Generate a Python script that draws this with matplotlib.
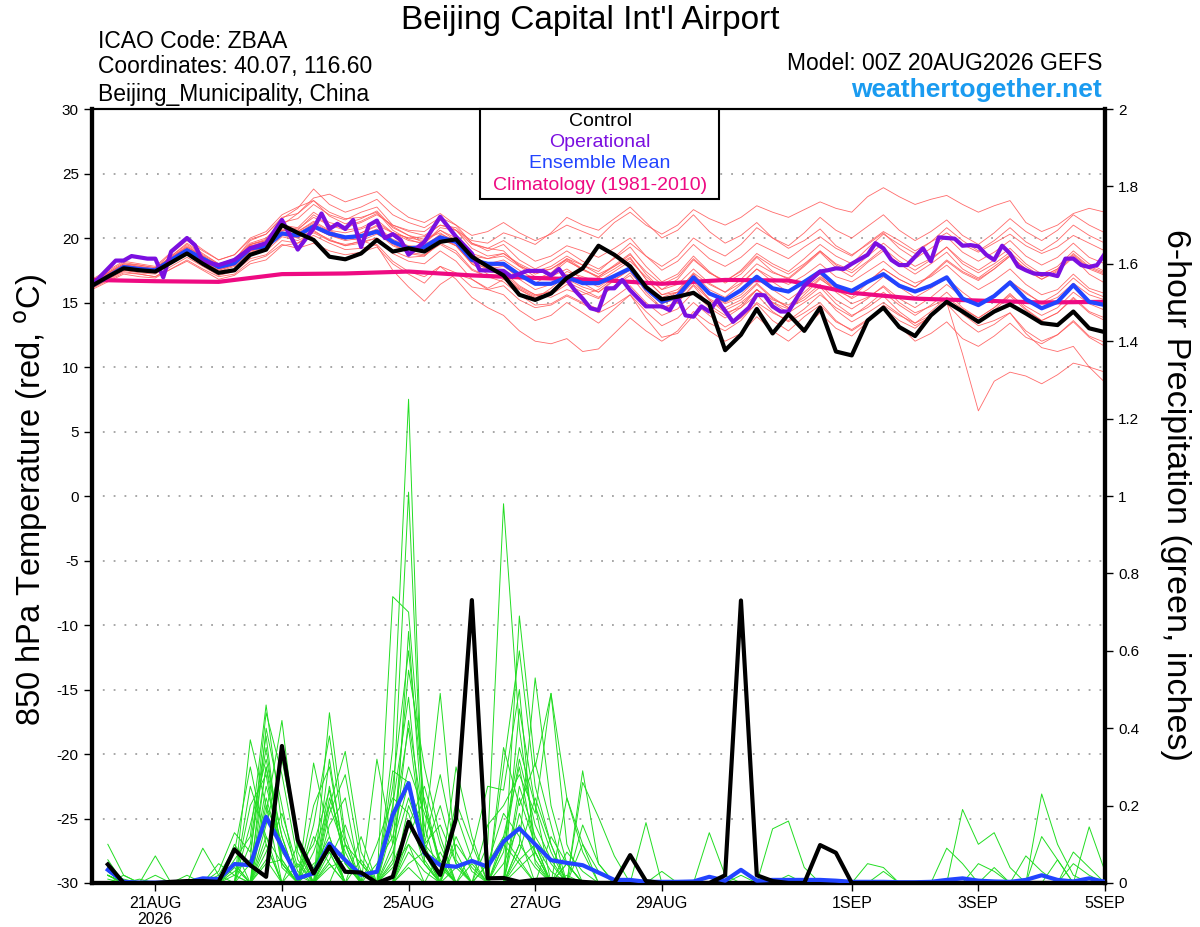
import numpy as np
import matplotlib.pyplot as plt
from matplotlib.patches import Rectangle

plt.rcParams['font.family'] = ['Liberation Sans', 'DejaVu Sans']

# hours after 00Z 20AUG2026, 6-hourly
hours = np.arange(0, 385, 6)
precip_hours = hours[1:]

# control run (black)
control_temp = [16.3, 17.0, 17.65, 17.5, 17.4, 18.1, 18.8, 18.0, 17.3, 17.5,
                18.7, 19.1, 21.0, 20.4, 19.85, 18.55, 18.35, 18.8, 19.85, 18.95,
                19.2, 18.95, 19.7, 19.9, 18.55, 17.8, 17.1, 15.6, 15.2, 15.7,
                16.9, 17.65, 19.4, 18.7, 17.8, 16.2, 15.25, 15.45, 15.75, 14.9,
                11.3, 12.5, 14.5, 12.6, 14.1, 12.8, 14.6, 11.2, 10.9, 13.6,
                14.6, 13.1, 12.4, 14.0, 15.05, 14.3, 13.5, 14.3, 14.85, 14.15,
                13.4, 13.25, 14.3, 13.0, 12.7]

# ensemble mean (blue)
mean_temp = [16.3, 17.0, 17.75, 17.6, 17.5, 18.3, 19.05, 18.4, 17.75, 18.05,
             19.2, 19.35, 20.35, 20.2, 20.9, 20.35, 20.05, 20.15, 20.5, 19.7,
             19.2, 19.3, 20.05, 19.7, 18.3, 18.0, 18.0, 17.15, 16.45, 16.45,
             16.95, 16.5, 16.5, 17.05, 17.65, 16.1, 15.05, 15.5, 16.95, 15.7,
             15.2, 15.95, 17.0, 16.1, 15.85, 16.6, 17.4, 16.3, 15.9, 16.6,
             17.2, 16.3, 15.85, 16.3, 16.95, 15.3, 14.8, 15.5, 16.55, 15.25,
             14.55, 15.05, 16.35, 15.05, 14.8]

# operational run (purple), 3-hourly where it bends
op_hours = [0, 9, 12, 15, 21, 24, 27, 30, 36, 39, 42, 48, 54, 60, 66, 72, 78, 84, 87, 90,
            93, 96, 99, 102, 105, 108, 111, 114, 117, 120, 126, 132, 138, 144, 147, 156,
            159, 165, 171, 174, 177, 183, 186, 189, 192, 195, 198, 201, 204, 210, 216,
            219, 222, 225, 228, 231, 234, 237, 243, 249, 252, 255, 258, 261, 264, 270,
            276, 279, 282, 285, 288, 294, 297, 300, 303, 306, 309, 312, 315, 318, 321,
            324, 327, 330, 333, 336, 339, 342, 345, 348, 351, 354, 357, 360, 363, 366,
            369, 372, 375, 378, 381, 384]
op_temp = [16.35, 18.25, 18.25, 18.6, 18.4, 18.4, 16.95, 18.95, 20.0, 19.45, 18.2, 17.9,
           18.3, 19.2, 19.6, 21.4, 19.1, 20.75, 21.9, 20.7, 21.1, 20.7, 21.4, 19.3, 21.0,
           21.35, 20.0, 20.3, 19.85, 18.7, 19.7, 21.65, 20.1, 18.8, 17.5, 17.45, 17.0,
           17.45, 17.45, 17.1, 17.6, 15.95, 15.3, 14.55, 14.4, 16.1, 16.1, 16.75, 15.95,
           14.7, 14.7, 14.4, 15.45, 14.0, 13.9, 14.7, 14.3, 15.2, 13.5, 14.6, 15.6, 15.55,
           14.7, 14.3, 14.3, 16.3, 17.4, 17.5, 17.65, 17.6, 18.0, 18.7, 19.6, 19.2, 18.3,
           17.9, 17.9, 18.55, 19.2, 18.2, 20.05, 20.0, 19.95, 19.4, 19.45, 19.35, 18.7,
           18.3, 19.4, 18.8, 17.8, 17.5, 17.25, 17.2, 17.2, 17.05, 18.4, 18.4, 17.9,
           17.75, 17.9, 18.8]

# climatology (daily)
clim_hours = np.arange(0, 385, 24)
clim_temp = [16.75, 16.65, 16.6, 17.2, 17.25, 17.4, 17.1, 16.9, 16.75, 16.45,
             16.75, 16.7, 15.75, 15.3, 15.15, 15.0, 15.05]

# 6-hour precipitation, inches
control_precip = [.048, 0, 0, 0, .003, .005, .005, .003, .087, .046,
                  .016, .354, .111, .025, .094, .029, .027, 0, .016, .158,
                  .081, .021, .167, .731, .012, .013, .003, .008, .01, .008,
                  .003, 0, 0, .072, .005, 0, 0, 0, 0, .02,
                  .73, .02, .005, 0, 0, .098, .078, 0, 0, 0,
                  0, 0, 0, 0, 0, 0, 0, 0, 0, 0, 0, 0, 0, 0]
mean_precip = [.034, .003, .001, .001, .001, .002, .012, .01, .049, .046,
               .171, .094, .012, .025, .102, .059, .021, .029, .176, .258,
               .077, .046, .042, .057, .042, .107, .141, .1, .059, .052,
               .046, .027, .008, .008, .003, .003, .003, .004, .016, .006,
               .034, .006, .008, .008, .008, .008, .006, .003, .003, .003,
               .002, .002, .003, .008, .012, .006, .004, .003, .008, .02,
               .008, .004, .012, .003]

# ensemble members, 850 hPa temperature (red)
member_temp = [
    [16.5, 17.2, 17.9, 17.8, 17.6, 18.6, 19.5, 18.7, 18.0, 18.4, 19.6, 20.0, 21.2, 21.5, 22.6, 21.8, 21.4, 22.0, 22.4, 21.0, 20.5, 20.2, 21.0, 20.6, 19.5, 19.2, 19.8, 19.0, 18.2, 18.6, 19.4, 19.0, 18.5, 19.2, 20.0, 18.6, 17.5, 18.2, 19.5, 18.4, 17.8, 18.5, 19.6, 19.0, 18.4, 19.3, 20.1, 19.2, 18.6, 19.6, 20.5, 19.8, 19.0, 19.7, 20.4, 19.5, 18.9, 19.6, 20.3, 19.4, 18.8, 19.3, 20.2, 19.6, 19.0],
    [16.6, 17.3, 18.0, 17.9, 17.7, 18.8, 19.8, 19.0, 18.3, 18.7, 19.9, 20.3, 21.5, 22.3, 23.8, 22.6, 22.0, 22.4, 23.0, 21.8, 21.2, 20.8, 21.6, 21.0, 20.2, 20.5, 21.2, 20.4, 19.8, 20.3, 21.0, 20.5, 20.0, 21.2, 22.0, 21.0, 20.3, 21.0, 22.2, 21.5, 21.0, 21.6, 22.5, 22.0, 21.6, 22.2, 22.8, 22.3, 22.0, 23.2, 23.9, 23.2, 22.6, 23.0, 23.3, 22.6, 22.0, 22.5, 22.9, 21.2, 20.5, 21.0, 21.9, 22.3, 22.0],
    [16.1, 16.7, 17.3, 17.2, 17.0, 17.6, 18.3, 17.6, 17.0, 17.2, 18.2, 18.6, 19.5, 19.2, 19.6, 19.0, 18.7, 18.9, 19.3, 18.0, 17.2, 16.5, 17.8, 17.3, 16.2, 16.0, 16.3, 15.2, 14.6, 14.8, 15.5, 14.9, 14.2, 14.8, 15.6, 14.3, 13.2, 13.8, 15.0, 14.0, 13.1, 13.8, 14.9, 13.6, 12.8, 13.9, 14.8, 13.5, 12.9, 13.7, 14.6, 13.2, 12.0, 12.6, 13.5, 12.2, 11.6, 12.4, 13.4, 12.3, 11.8, 12.5, 13.6, 12.4, 11.9],
    [16.4, 17.1, 17.8, 17.5, 17.3, 18.2, 19.0, 18.3, 17.6, 18.0, 19.3, 19.6, 20.7, 20.5, 21.3, 20.6, 20.0, 19.8, 19.4, 17.5, 16.2, 15.1, 16.4, 17.2, 16.8, 16.1, 16.8, 16.0, 15.3, 16.1, 17.2, 16.5, 15.8, 16.8, 17.5, 16.2, 15.4, 15.8, 16.9, 15.8, 15.0, 15.6, 16.8, 16.0, 15.2, 16.1, 17.0, 16.1, 15.3, 16.0, 17.0, 16.2, 15.4, 16.1, 16.9, 15.8, 14.9, 15.6, 16.6, 15.8, 14.9, 15.4, 16.5, 15.6, 15.2],
    [16.2, 16.9, 17.6, 17.5, 17.4, 18.3, 19.2, 18.4, 17.7, 18.0, 19.1, 19.4, 20.6, 20.4, 21.1, 20.3, 19.9, 20.2, 20.7, 19.8, 19.2, 19.0, 20.0, 19.4, 18.1, 17.6, 17.4, 16.3, 15.6, 15.8, 16.6, 16.0, 15.4, 16.3, 17.1, 15.6, 14.5, 15.0, 16.4, 15.2, 14.4, 15.0, 16.0, 15.0, 14.2, 15.0, 15.8, 14.4, 13.5, 14.2, 15.0, 14.1, 13.2, 13.9, 15.0, 11.0, 6.6, 8.9, 9.6, 9.3, 8.7, 9.4, 10.3, 10.0, 9.6],
    [16.7, 17.4, 18.1, 17.9, 17.7, 18.5, 19.3, 18.6, 17.9, 18.2, 19.5, 19.8, 21.0, 21.9, 22.9, 21.7, 21.1, 21.5, 22.1, 20.8, 20.2, 19.6, 20.6, 19.8, 18.4, 17.8, 17.9, 16.8, 16.0, 16.4, 17.4, 17.0, 16.6, 17.4, 18.2, 17.0, 16.0, 16.4, 17.6, 16.5, 15.8, 16.5, 17.6, 16.6, 15.8, 16.5, 17.2, 15.8, 14.9, 15.4, 16.2, 15.0, 14.2, 14.7, 15.3, 14.1, 13.2, 13.6, 14.2, 12.6, 11.5, 11.2, 11.6, 10.0, 8.8],
    [16.3, 17.0, 17.7, 17.5, 17.5, 18.4, 19.2, 18.5, 17.8, 18.1, 19.4, 19.5, 20.5, 20.0, 20.8, 20.2, 19.8, 20.0, 20.4, 19.4, 18.9, 19.2, 19.9, 19.4, 18.0, 17.4, 17.2, 16.2, 15.6, 15.4, 16.0, 15.6, 16.0, 16.9, 17.8, 16.3, 15.0, 15.6, 17.2, 16.0, 15.4, 16.4, 17.6, 16.9, 16.4, 17.1, 18.0, 17.0, 16.6, 17.4, 18.2, 17.2, 16.5, 17.0, 17.9, 16.8, 16.0, 16.7, 17.6, 16.4, 15.6, 16.0, 17.2, 16.1, 15.7],
    [16.5, 17.2, 17.9, 17.7, 17.6, 18.6, 19.6, 18.8, 18.0, 18.3, 19.8, 20.3, 21.6, 21.9, 23.1, 23.4, 22.8, 23.2, 23.6, 22.5, 21.6, 21.2, 21.9, 21.0, 19.6, 19.0, 19.5, 18.3, 17.6, 18.2, 19.0, 18.2, 17.6, 18.4, 19.3, 17.8, 16.6, 17.2, 18.6, 17.4, 16.5, 17.2, 18.5, 17.4, 16.8, 17.8, 18.9, 17.7, 17.0, 18.1, 19.0, 18.0, 17.2, 18.0, 18.9, 17.6, 16.9, 17.8, 18.7, 17.5, 16.8, 17.5, 18.6, 17.6, 17.1],
    [16.0, 16.6, 17.2, 17.0, 16.9, 17.6, 18.2, 17.5, 16.8, 17.1, 18.0, 18.3, 19.4, 19.6, 20.5, 19.9, 19.4, 19.8, 20.3, 19.6, 18.8, 18.6, 19.6, 19.0, 17.6, 17.0, 16.6, 15.6, 14.8, 14.9, 15.6, 15.0, 14.5, 15.4, 16.3, 15.0, 14.0, 14.5, 15.8, 14.6, 13.8, 14.6, 16.0, 15.2, 14.8, 15.8, 16.9, 15.9, 15.4, 16.5, 17.6, 16.8, 16.2, 17.1, 18.2, 17.3, 16.7, 17.6, 18.6, 17.6, 17.0, 17.6, 18.8, 17.8, 17.3],
    [16.6, 17.3, 18.0, 17.8, 17.6, 18.4, 19.2, 18.5, 17.8, 18.1, 19.4, 19.7, 20.9, 20.6, 21.8, 21.0, 20.6, 20.8, 21.4, 20.4, 19.8, 19.6, 20.8, 20.6, 19.8, 19.6, 20.4, 20.0, 19.5, 20.4, 21.6, 21.0, 20.6, 21.5, 22.4, 21.2, 20.0, 20.6, 21.8, 20.5, 19.6, 20.2, 21.2, 20.0, 19.2, 19.8, 20.7, 19.4, 18.7, 19.5, 20.4, 19.2, 18.4, 19.2, 20.1, 18.9, 18.2, 18.9, 19.8, 18.6, 17.9, 18.5, 19.6, 18.5, 18.0],
    [16.2, 16.9, 17.5, 17.4, 17.3, 18.0, 18.8, 18.1, 17.4, 17.8, 18.9, 19.2, 20.2, 20.0, 20.6, 19.8, 19.5, 19.7, 20.0, 18.8, 18.2, 18.0, 19.0, 18.2, 16.8, 16.0, 15.6, 14.4, 13.6, 14.0, 15.0, 14.2, 13.4, 14.5, 15.6, 13.8, 12.3, 12.6, 14.0, 12.8, 12.0, 12.6, 13.9, 12.8, 12.0, 13.0, 14.2, 13.0, 12.4, 13.5, 14.8, 14.0, 13.4, 14.3, 15.4, 14.5, 13.8, 14.6, 15.6, 14.7, 14.0, 14.6, 15.8, 14.9, 14.4],
    [16.4, 17.1, 17.8, 17.7, 17.6, 18.5, 19.4, 18.6, 17.9, 18.3, 19.5, 19.9, 21.0, 20.8, 22.0, 21.2, 20.9, 21.3, 21.9, 20.9, 20.2, 19.9, 20.4, 19.6, 18.2, 17.6, 17.8, 17.0, 16.5, 17.2, 18.2, 17.6, 17.0, 17.9, 18.8, 17.2, 16.0, 16.8, 18.3, 17.3, 16.6, 17.5, 18.8, 18.0, 17.4, 18.4, 19.5, 18.6, 18.0, 19.2, 20.3, 19.5, 18.8, 19.7, 20.8, 19.8, 19.0, 19.8, 20.8, 19.7, 19.0, 19.8, 21.0, 20.2, 19.6],
    [16.3, 17.0, 17.6, 17.4, 17.3, 18.1, 18.9, 18.2, 17.5, 17.9, 19.0, 19.3, 20.4, 20.3, 21.0, 20.4, 20.0, 20.2, 20.6, 19.5, 18.9, 18.7, 19.5, 18.8, 17.5, 17.0, 17.0, 16.1, 15.5, 15.9, 16.8, 16.2, 15.8, 16.7, 17.6, 16.0, 14.9, 15.3, 16.6, 15.3, 14.6, 15.2, 16.4, 15.3, 14.6, 15.2, 16.2, 14.9, 14.0, 14.6, 15.5, 14.3, 13.4, 14.0, 14.9, 13.6, 12.7, 13.3, 14.2, 12.8, 12.0, 12.5, 13.5, 12.3, 11.6],
    [16.8, 17.5, 18.2, 18.0, 17.8, 18.9, 20.0, 19.1, 18.3, 18.7, 20.0, 20.5, 21.8, 22.4, 22.9, 22.0, 21.5, 21.6, 22.0, 20.6, 19.9, 19.5, 20.2, 19.4, 18.0, 17.2, 17.0, 16.0, 15.4, 15.6, 16.4, 15.8, 15.3, 16.3, 17.3, 16.0, 15.1, 15.8, 17.3, 16.4, 15.8, 16.8, 18.0, 17.3, 16.9, 17.9, 19.0, 18.0, 17.5, 18.6, 19.6, 18.6, 17.8, 18.4, 19.3, 18.0, 17.3, 18.0, 18.9, 17.8, 17.0, 17.6, 18.7, 17.7, 17.2],
    [16.1, 16.8, 17.5, 17.3, 17.2, 18.0, 18.7, 18.0, 17.3, 17.6, 18.8, 19.0, 20.1, 19.8, 20.4, 19.8, 19.4, 19.6, 20.0, 19.0, 18.5, 18.6, 19.8, 19.6, 18.6, 18.4, 18.8, 17.9, 17.2, 17.6, 18.4, 17.6, 16.9, 17.6, 18.4, 16.8, 15.6, 16.0, 17.2, 15.8, 14.9, 15.4, 16.5, 15.4, 14.6, 15.4, 16.4, 15.2, 14.5, 15.3, 16.3, 15.3, 14.6, 15.4, 16.4, 15.4, 14.8, 15.6, 16.7, 15.7, 15.0, 15.7, 16.9, 15.9, 15.4],
    [16.2, 16.8, 17.4, 17.2, 17.0, 17.8, 18.5, 17.8, 17.1, 17.4, 18.4, 18.7, 19.8, 19.6, 20.2, 19.6, 19.1, 19.2, 19.5, 18.2, 17.4, 17.0, 17.8, 16.8, 15.4, 14.6, 14.0, 12.8, 12.0, 11.8, 12.2, 11.2, 11.4, 12.6, 13.8, 12.8, 12.0, 12.8, 14.3, 13.4, 12.8, 13.6, 15.0, 14.2, 13.6, 14.5, 15.6, 14.6, 13.9, 14.8, 15.8, 14.8, 14.0, 14.8, 15.8, 14.6, 13.8, 14.6, 15.7, 14.5, 13.6, 14.2, 15.3, 14.2, 13.6],
    [16.5, 17.2, 17.8, 17.6, 17.5, 18.3, 19.1, 18.4, 17.7, 18.0, 19.2, 19.5, 20.6, 20.5, 21.2, 20.5, 20.0, 20.4, 20.9, 19.9, 19.4, 19.3, 20.3, 19.8, 18.6, 18.0, 18.3, 17.5, 16.8, 17.3, 18.4, 17.9, 17.4, 18.5, 19.6, 18.6, 17.8, 18.6, 20.0, 19.2, 18.6, 19.5, 20.8, 20.0, 19.4, 20.4, 21.6, 20.6, 20.0, 20.9, 21.8, 20.6, 19.8, 20.5, 21.4, 20.2, 19.5, 20.4, 21.5, 20.5, 19.8, 20.6, 21.8, 21.0, 20.4],
    [16.3, 17.0, 17.6, 17.5, 17.4, 18.2, 19.0, 18.3, 17.6, 17.9, 19.1, 19.4, 20.4, 20.2, 20.9, 20.6, 20.4, 20.7, 21.2, 20.4, 20.0, 20.1, 21.0, 20.8, 19.6, 19.2, 19.0, 17.8, 17.0, 17.0, 17.6, 16.8, 16.2, 17.0, 17.6, 15.8, 14.6, 15.0, 16.3, 14.8, 14.0, 14.8, 16.0, 15.0, 14.5, 15.6, 16.8, 16.0, 15.6, 16.6, 17.6, 16.8, 16.2, 17.2, 18.3, 17.4, 16.8, 17.6, 18.6, 17.6, 16.8, 17.4, 18.5, 17.2, 16.5],
    [16.4, 17.0, 17.7, 17.6, 17.5, 18.3, 19.0, 18.2, 17.5, 17.9, 19.0, 19.2, 20.3, 20.2, 20.8, 20.2, 19.9, 20.4, 21.0, 20.4, 20.0, 19.8, 20.6, 20.0, 18.8, 18.4, 18.6, 17.8, 17.4, 17.8, 18.6, 17.9, 17.2, 17.8, 18.5, 16.8, 15.6, 15.8, 16.8, 15.2, 14.2, 14.6, 15.6, 14.3, 13.5, 14.2, 15.0, 13.6, 12.8, 13.6, 14.6, 13.6, 13.0, 14.0, 15.2, 14.2, 13.5, 14.4, 15.5, 14.4, 13.6, 14.2, 15.4, 14.3, 13.8],
    [16.6, 17.3, 17.9, 17.7, 17.6, 18.5, 19.3, 18.6, 17.9, 18.2, 19.5, 19.8, 20.9, 20.7, 21.6, 21.0, 20.8, 21.2, 21.8, 21.0, 20.6, 20.5, 21.4, 20.6, 19.2, 18.6, 18.8, 18.0, 17.4, 17.6, 18.3, 17.5, 17.0, 17.8, 18.7, 17.4, 16.4, 17.0, 18.4, 17.3, 16.7, 17.4, 18.6, 17.8, 17.2, 18.0, 19.0, 17.9, 17.3, 18.2, 19.2, 18.2, 17.5, 18.3, 19.3, 18.2, 17.5, 18.3, 19.2, 18.0, 17.2, 17.8, 19.0, 18.0, 17.4],
]

# ensemble members, 6-hour precipitation (green): {6-h step: inches}, others zero
member_precip = [
    {1: .03, 9: .06, 10: .12, 11: .46, 12: .15, 13: .03, 15: .44, 16: .12, 19: .35, 20: 1.25, 21: .05, 26: .12, 27: .3, 28: .08, 30: .02},
    {1: .1, 2: .02, 8: .03, 9: .13, 10: .08, 11: .35, 12: .06, 15: .25, 16: .05, 19: .18, 20: 1.01, 21: .08, 22: .2, 23: .05, 27: .1, 28: .53, 29: .2, 30: .05},
    {1: .05, 4: .07, 11: .25, 12: .1, 14: .31, 15: .12, 19: .74, 20: .70, 21: .2, 22: .05, 25: .1, 26: .98, 27: .4, 28: .1, 55: .19, 56: .1, 57: .13, 58: .04},
    {1: .02, 10: .37, 11: .2, 13: .1, 15: .2, 16: .34, 17: .08, 20: .65, 21: .1, 23: .21, 24: .1, 27: .69, 28: .3, 29: .49, 30: .1},
    {2: .02, 9: .04, 11: .4, 12: .2, 14: .05, 15: .08, 18: .32, 19: .1, 20: .26, 21: .12, 22: .49, 23: .06, 26: .3, 27: .6, 28: .25, 29: .1, 31: .29, 32: .05},
    {7: .09, 8: .02, 11: .3, 12: .05, 15: .15, 16: .22, 19: .29, 20: .26, 21: .1, 22: .28, 23: .08, 26: .35, 27: .2, 28: .31, 29: .15, 31: .26, 32: .17, 33: .07, 35: .156},
    {1: .04, 6: .02, 10: .05, 11: .18, 12: .42, 13: .08, 15: .05, 17: .12, 20: .2, 21: .1, 22: .05, 24: .08, 25: .25, 26: .24, 27: .5, 28: .05, 39: .13, 40: .02},
    {9: .03, 10: .06, 11: .44, 12: .28, 13: .06, 15: .32, 16: .05, 19: .06, 20: .42, 21: .15, 23: .3, 24: .12, 27: .45, 28: .2, 29: .08, 43: .14, 44: .16, 45: .04},
    {1: .02, 10: .25, 11: .12, 14: .15, 15: .38, 16: .1, 18: .05, 19: .12, 20: .3, 21: .18, 22: .06, 25: .15, 26: .2, 27: .28, 28: .18, 29: .49, 30: .22, 31: .08, 60: .23, 61: .1, 62: .02},
    {1: .03, 3: .01, 9: .05, 11: .22, 12: .08, 13: .02, 16: .1, 17: .05, 19: .1, 20: .55, 21: .3, 22: .12, 24: .05, 27: .22, 28: .1, 30: .05, 54: .09, 55: .05},
    {1: .06, 9: .1, 10: .04, 11: .3, 12: .12, 14: .08, 15: .2, 16: .08, 19: .2, 20: .48, 21: .06, 23: .18, 24: .06, 26: .1, 27: .35, 28: .2, 30: .05, 63: .145, 64: .03},
    {8: .05, 9: .02, 11: .15, 12: .32, 13: .1, 15: .1, 19: .05, 20: .15, 21: .25, 22: .1, 26: .05, 27: .15, 28: .08, 30: .22, 31: .1, 49: .05, 50: .04},
    {1: .02, 10: .1, 11: .38, 12: .05, 14: .2, 15: .3, 16: .06, 19: .15, 20: .4, 21: .08, 23: .1, 24: .04, 27: .25, 28: .12, 29: .05, 59: .07, 60: .03},
    {9: .08, 10: .3, 11: .1, 15: .18, 16: .28, 17: .05, 20: .12, 21: .22, 22: .05, 25: .05, 26: .18, 27: .12, 31: .1, 32: .03},
    {1: .04, 11: .08, 12: .18, 13: .04, 14: .1, 15: .24, 16: .05, 18: .1, 19: .22, 20: .18, 21: .05, 23: .12, 24: .03, 27: .08, 28: .22, 29: .1, 62: .08, 63: .04},
    {2: .01, 9: .02, 11: .2, 12: .1, 15: .06, 16: .15, 17: .03, 20: .1, 21: .05, 26: .1, 27: .05, 29: .12, 30: .05, 36: .03, 57: .04},
    {1: .03, 10: .2, 11: .28, 12: .04, 14: .04, 15: .12, 19: .08, 20: .22, 21: .1, 22: .15, 23: .05, 27: .18, 28: .06, 31: .15, 32: .05, 41: .02},
    {1: .02, 9: .05, 11: .12, 12: .05, 15: .08, 17: .06, 20: .08, 21: .03, 25: .05, 26: .12, 27: .06, 28: .1, 29: .03, 44: .02, 50: .03},
    {4: .02, 11: .05, 12: .06, 14: .12, 15: .05, 19: .04, 20: .1, 22: .08, 27: .1, 28: .04, 56: .05, 57: .03, 61: .06},
    {1: .05, 10: .15, 11: .32, 12: .12, 15: .22, 16: .1, 19: .25, 20: .6, 21: .2, 22: .04, 26: .08, 27: .32, 28: .15, 29: .06},
    {1: .01, 8: .02, 9: .09, 11: .1, 13: .05, 15: .1, 20: .05, 21: .08, 27: .04, 28: .08, 60: .12, 61: .06},
    {1: .02, 11: .06, 15: .04, 16: .06, 20: .04, 23: .04, 27: .06, 30: .08, 31: .03, 62: .05, 63: .02},
]

tick_hours = [24, 72, 120, 168, 216, 288, 336, 384]
tick_labels = ['21AUG\n2026', '23AUG', '25AUG', '27AUG', '29AUG', '1SEP', '3SEP', '5SEP']

# build the precip table from the member dicts
precip_table = np.zeros((len(member_precip), len(precip_hours)))
for k, m in enumerate(member_precip):
    for step, v in m.items():
        precip_table[k, step - 1] = v

fig = plt.figure(figsize=(12, 9.27), dpi=100)
ax = fig.add_axes([92 / 1200, 1 - 883 / 927, 1013 / 1200, 774 / 927])
ax2 = ax.twinx()

# temperature
for m in member_temp:
    ax.plot(hours[:len(m)], m, color='#ff5a5a', lw=0.6, alpha=0.9, zorder=2)
ax.plot(clim_hours, clim_temp, color='#ee0a82', lw=3, zorder=4)
ax.plot(hours, mean_temp, color='#2244ff', lw=3, zorder=5)
ax.plot(op_hours, op_temp, color='#7b0fe0', lw=3, zorder=6)
ax.plot(hours, control_temp, color='black', lw=3, zorder=7)

ax.set_xlim(0, 384)
ax.set_ylim(-30, 30)
ax.set_yticks(np.arange(-30, 31, 5))
ax.set_yticklabels([str(v) for v in range(-30, 31, 5)], fontsize=11)
ax.yaxis.grid(True, linestyle=(0, (1, 5)), color='#a0a0a0', lw=1.3)
ax.set_axisbelow(True)
ax.set_xticks(tick_hours)
ax.set_xticklabels(tick_labels, fontsize=11.5, linespacing=1.1)
ax.tick_params(axis='both', direction='out', length=6, width=1)

# precipitation
for row in precip_table:
    ax2.plot(precip_hours, row, color='#22dd22', lw=0.7, zorder=2)
ax2.plot(precip_hours, mean_precip, color='#2244ff', lw=3, zorder=5)
ax2.plot(precip_hours, control_precip, color='black', lw=3, zorder=6)
ax2.set_ylim(0, 2)
ax2.set_yticks(np.arange(0, 2.01, 0.2))
ax2.set_yticklabels(['0', '0.2', '0.4', '0.6', '0.8', '1', '1.2', '1.4', '1.6', '1.8', '2'],
                    fontsize=11)
ax2.tick_params(axis='y', direction='out', length=6, width=1)

for a in (ax, ax2):
    for side in ('left', 'right', 'bottom'):
        a.spines[side].set_linewidth(3)
    a.spines['top'].set_linewidth(1.5)

# axis titles
fig.text(31 / 1200, 1 - 500 / 927, "850 hPa Temperature (red, $^{\\rm o}$C)",
         rotation=90, ha='center', va='center', fontsize=23.5)
fig.text(1175 / 1200, 1 - 495 / 927, "6-hour Precipitation (green, inches)",
         rotation=-90, ha='center', va='center', fontsize=24.5)

# header
fig.text(590 / 1200, 1 - 20 / 927, "Beijing Capital Int'l Airport",
         ha='center', va='center', fontsize=24)
fig.text(98 / 1200, 1 - 41 / 927, 'ICAO Code: ZBAA', va='center', fontsize=16.5)
fig.text(98 / 1200, 1 - 67 / 927, 'Coordinates: 40.07, 116.60', va='center', fontsize=16.5)
fig.text(98 / 1200, 1 - 94 / 927, 'Beijing_Municipality, China', va='center', fontsize=16.5)
fig.text(1102 / 1200, 1 - 64 / 927, 'Model: 00Z 20AUG2026 GEFS',
         ha='right', va='center', fontsize=16.5)
fig.text(1102 / 1200, 1 - 90 / 927, 'weathertogether.net', ha='right', va='center',
         fontsize=19, fontweight='bold', color='#1a9bf0')

# legend box
fig.patches.append(Rectangle((480 / 1200, 1 - 199 / 927), 239 / 1200, 90 / 927,
                             transform=fig.transFigure, facecolor='white',
                             edgecolor='black', lw=1.5, zorder=5))
legend_items = [('Control', 'black'), ('Operational', '#7b0fe0'),
                ('Ensemble Mean', '#2244ff'), ('Climatology (1981-2010)', '#ee0a82')]
for k, (txt, col) in enumerate(legend_items):
    fig.text(600 / 1200, 1 - (121 + 21.5 * k) / 927, txt, color=col,
             ha='center', va='center', fontsize=14, zorder=6)

fig.savefig('out.png', dpi=100)
